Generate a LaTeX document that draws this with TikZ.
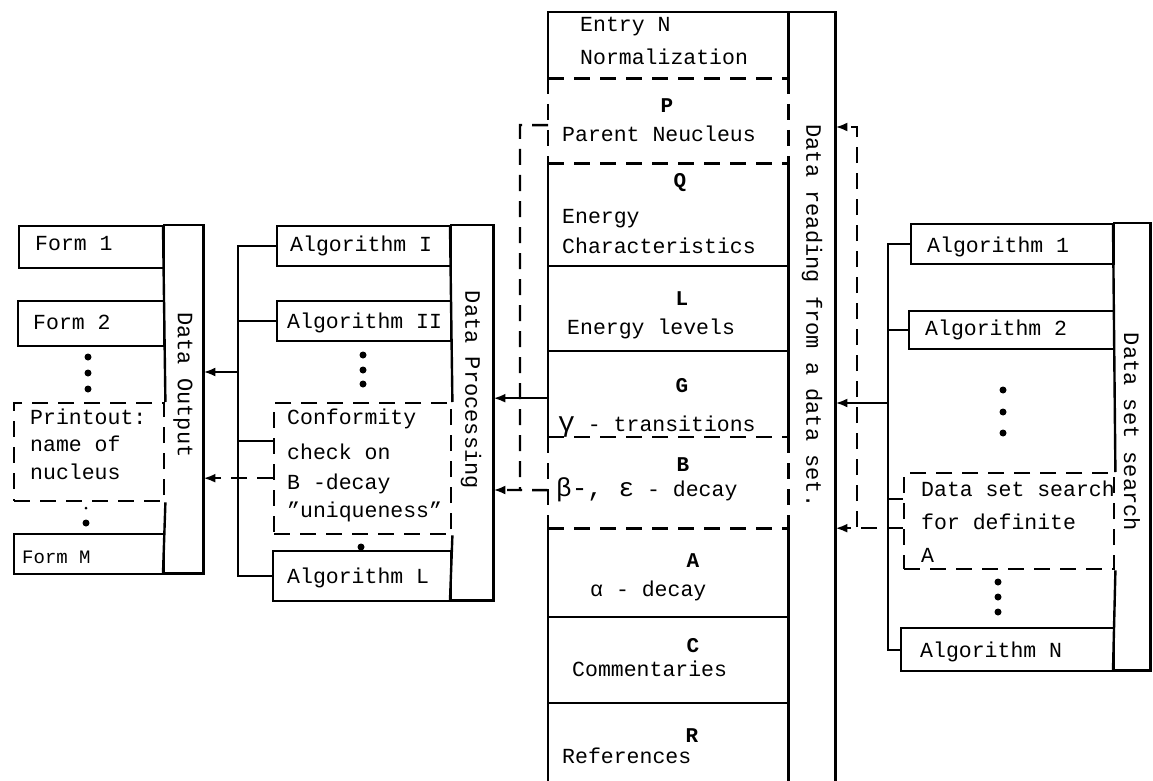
\documentclass[tikz,border=0pt]{standalone}
\usepackage{fontspec}
\setmainfont{Liberation Mono}
\usetikzlibrary{arrows.meta,calc}
\tikzset{
  box/.style={draw, line width=2.4pt, rectangle, inner sep=0pt, anchor=north west},
  dbox/.style={box, dash pattern=on 16pt off 10pt},
  area/.style={draw=none, rectangle, inner sep=0pt, anchor=north west},
  ln/.style={line width=2.4pt},
  dln/.style={line width=2.4pt, dash pattern=on 16pt off 10pt},
  txt/.style={anchor=mid west, inner sep=0pt, yshift=-4pt, font=\fontsize{21.5}{26}\selectfont},
  smalltxt/.style={anchor=mid west, inner sep=0pt, yshift=-3pt, font=\fontsize{19}{22}\selectfont},
  lbl/.style={anchor=mid, inner sep=0pt, yshift=-3pt, font=\fontsize{21}{24}\selectfont\bfseries},
  vtxt/.style={rotate=-90, inner sep=0pt, font=\fontsize{22}{26}\selectfont},
  arr/.style={-{Latex[length=12pt,width=9pt]}},
  dotmark/.style={fill=black, circle, inner sep=0pt, minimum size=7pt},
}
\begin{document}
\begin{tikzpicture}[x=1pt,y=-1pt]
\useasboundingbox (0,0) rectangle (1153,781);

% ---------------- Data Output ----------------
\node[area, minimum width=40pt, minimum height=348pt] (outbar) at (163,225) {};
\node[box, minimum width=145pt, minimum height=42pt] (f1) at (18,225) {};
\node[box, minimum width=146pt, minimum height=45pt] (f2) at (17,300) {};
\node[dbox, minimum width=150pt, minimum height=98pt] (fp) at (13,402) {};
\node[box, minimum width=150pt, minimum height=40pt] (fM) at (13,533) {};
\draw[ln] (outbar.north west) -- (outbar.north east) -- (outbar.south east) -- (outbar.south west);
\draw[ln] (outbar.north west) -- (fp.north east);
\draw[ln] (fp.south east) -- (outbar.south west);
\node[txt] at (35,244) {Form 1};
\node[txt] at (33,323) {Form 2};
\node[txt] at (30,418) {Printout:};
\node[txt] at (30,445) {name of};
\node[txt] at (30,473) {nucleus};
\node[smalltxt] at (22,558) {Form M};
\node[vtxt] at (183,385) {Data Output};
\node[dotmark] (d1) at (88,357) {};
\node[dotmark] (d2) at (88,373) {};
\node[dotmark] (d3) at (88,389) {};
\node[dotmark, minimum size=3pt] (d4) at (86,508) {};
\node[dotmark] (d5) at (86,523) {};

% ---------------- Data Processing ----------------
\node[area, minimum width=43pt, minimum height=375pt] (procbar) at (450,225) {};
\node[box, minimum width=174pt, minimum height=40pt] (a1) at (276,225) {};
\node[box, minimum width=174pt, minimum height=40pt] (a2) at (276,300) {};
\node[dbox, minimum width=177pt, minimum height=131pt] (cf) at (273,402) {};
\node[box, minimum width=178pt, minimum height=50pt] (aL) at (272,550) {};
\draw[ln] (procbar.north west) -- (procbar.north east) -- (procbar.south east) -- (procbar.south west);
\draw[ln] (procbar.north west) -- (cf.north east);
\draw[ln] (cf.south east) -- (procbar.south west);
\node[txt] at (290,245) {Algorithm I};
\node[txt] at (287,322) {Algorithm II};
\node[txt] at (287,418) {Conformity};
\node[txt] at (287,453) {check on};
\node[txt] at (287,483) {B -decay};
\node[txt] at (287,511) {"uniqueness"};
\node[txt] at (287,577) {Algorithm L};
\node[vtxt] at (471,390) {Data Processing};
\node[dotmark] (e1) at (363,355) {};
\node[dotmark] (e2) at (363,370) {};
\node[dotmark] (e3) at (363,384) {};
\node[dotmark] (e4) at (361,547) {};

\coordinate (vx) at (238,0);
\coordinate (lj) at (238,372);
\draw[ln] (a1.west) -- (a1.west -| vx) -- (aL.west -| vx) -- (aL.west);
\draw[ln] (a2.west) -- (a2.west -| vx);
\draw[ln] ([yshift=28pt]cf.west) -- ([yshift=28pt]cf.west -| vx);
\draw[ln,arr] (lj) -- (lj -| outbar.east);
\draw[dln,arr] ([yshift=-9.5pt]cf.west) -- ([yshift=-9.5pt]cf.west -| outbar.east);

% ---------------- Central column ----------------
\node[area, minimum width=240pt, minimum height=66pt] (sN) at (548,12) {};
\node[area, minimum width=240pt, minimum height=85pt] (sP) at (548,78) {};
\node[area, minimum width=240pt, minimum height=103pt] (sQ) at (548,163) {};
\node[area, minimum width=240pt, minimum height=85pt] (sL) at (548,266) {};
\node[area, minimum width=240pt, minimum height=86pt] (sG) at (548,351) {};
\node[area, minimum width=240pt, minimum height=91pt] (sB) at (548,437) {};
\node[area, minimum width=240pt, minimum height=89pt] (sA) at (548,528) {};
\node[area, minimum width=240pt, minimum height=86pt] (sC) at (548,617) {};
\node[area, minimum width=240pt, minimum height=78pt] (sR) at (548,703) {};
\node[area, minimum width=47pt, minimum height=769pt] (readbar) at (788,12) {};

% outline
\draw[ln] (sN.south west) -- (sN.north west) -- (readbar.north east) -- (readbar.south east);
\draw[ln] (sN.north east) -- (sN.south east);
\draw[dln] (sN.south west) -- (sN.south east);
\draw[dln] (sP.north west) -- (sP.south west);
\draw[dln] (sP.north east) -- (sP.south east);
\draw[dln] (sP.south west) -- (sP.south east);
\draw[ln] (sQ.north west) -- (sG.south west);
\draw[ln] (sQ.north east) -- (sG.south east);
\draw[ln] (sL.north west) -- (sL.north east);
\draw[ln] (sG.north west) -- (sG.north east);
\draw[dln] (sB.north west) -- (sB.north east);
\draw[dln] (sB.north west) -- (sB.south west);
\draw[dln] (sB.north east) -- (sB.south east);
\draw[dln] (sB.south west) -- (sB.south east);
\draw[ln] (sA.north west) -- (sR.south west);
\draw[ln] (sA.north east) -- (sR.south east);
\draw[ln] (sC.north west) -- (sC.north east);
\draw[ln] (sR.north west) -- (sR.north east);

% texts
\node[txt] at (580,25) {Entry N};
\node[txt] at (580,58) {Normalization};
\node[lbl] at (667,107) {P};
\node[txt] at (562,135) {Parent Neucleus};
\node[lbl] at (680,182) {Q};
\node[txt] at (562,217) {Energy};
\node[txt] at (562,247) {Characteristics};
\node[lbl] at (682,300) {L};
\node[txt] at (567,328) {Energy levels};
\node[lbl] at (682,387) {G};
\node[txt] at (558,425) {{\fontsize{28}{30}\selectfont γ} - transitions};
\node[lbl] at (683,466) {B};
\node[txt] at (556,490) {{\fontsize{26}{30}\selectfont β-, ε} - decay};
\node[lbl] at (693,562) {A};
\node[txt] at (590,590) {α - decay};
\node[lbl] at (693,647) {C};
\node[txt] at (572,670) {Commentaries};
\node[lbl] at (692,737) {R};
\node[txt] at (562,757) {References};
\node[vtxt] at (812,316) {Data reading from a data set.};

% connectors from central column to Data Processing
\draw[ln,arr] ([yshift=-4pt]sG.west) -- ([yshift=-4pt]sG.west -| procbar.east);
\coordinate (pk) at (520,125);
\coordinate (bk) at (520,490);
\draw[dln,arr] ([yshift=-4.5pt]sP.west) -- (pk) -- (bk) -- (bk -| procbar.east);
\draw[dln] ([yshift=-7.5pt]sB.west) -- (bk);

% ---------------- Data set search ----------------
\node[area, minimum width=37pt, minimum height=447pt] (srchbar) at (1113,223) {};
\node[box, minimum width=203pt, minimum height=40pt] (r1) at (910,223) {};
\node[box, minimum width=205pt, minimum height=38pt] (r2) at (908,310) {};
\node[dbox, minimum width=210pt, minimum height=96pt] (rd) at (903,472) {};
\node[box, minimum width=213pt, minimum height=43pt] (rN) at (900,627) {};
\draw[ln] (srchbar.north west) -- (srchbar.north east) -- (srchbar.south east) -- (srchbar.south west);
\draw[ln] (srchbar.north west) -- (rd.north east);
\draw[ln] (rd.south east) -- (srchbar.south west);
\node[txt] at (927,246) {Algorithm 1};
\node[txt] at (925,329) {Algorithm 2};
\node[txt] at (921,490) {Data set search};
\node[txt] at (921,523) {for definite};
\node[txt] at (921,556) {A};
\node[txt] at (920,651) {Algorithm N};
\node[vtxt] at (1132,432) {Data set search};
\node[dotmark] (g1) at (1003,390) {};
\node[dotmark] (g2) at (1003,412) {};
\node[dotmark] (g3) at (1003,433) {};
\node[dotmark] (g4) at (998,582) {};
\node[dotmark] (g5) at (998,597) {};
\node[dotmark] (g6) at (998,612) {};

\coordinate (rv) at (888,0);
\coordinate (rj) at (888,403);
\draw[ln] (r1.west) -- (r1.west -| rv) -- (rN.west -| rv) -- (rN.west);
\draw[ln] (r2.west) -- (r2.west -| rv);
\draw[ln] ([yshift=22pt]rd.west) -- ([yshift=22pt]rd.west -| rv);
\draw[ln,arr] (rj) -- (rj -| readbar.east);
\draw[dln,arr] ([yshift=-7pt]rd.west) -- ([yshift=-7pt]rd.west -| readbar.east);
\coordinate (rk) at (857,527);
\coordinate (rt) at (857,127);
\draw[dln,arr] (rk) -- (rt) -- (rt -| readbar.east);
\end{tikzpicture}
\end{document}
